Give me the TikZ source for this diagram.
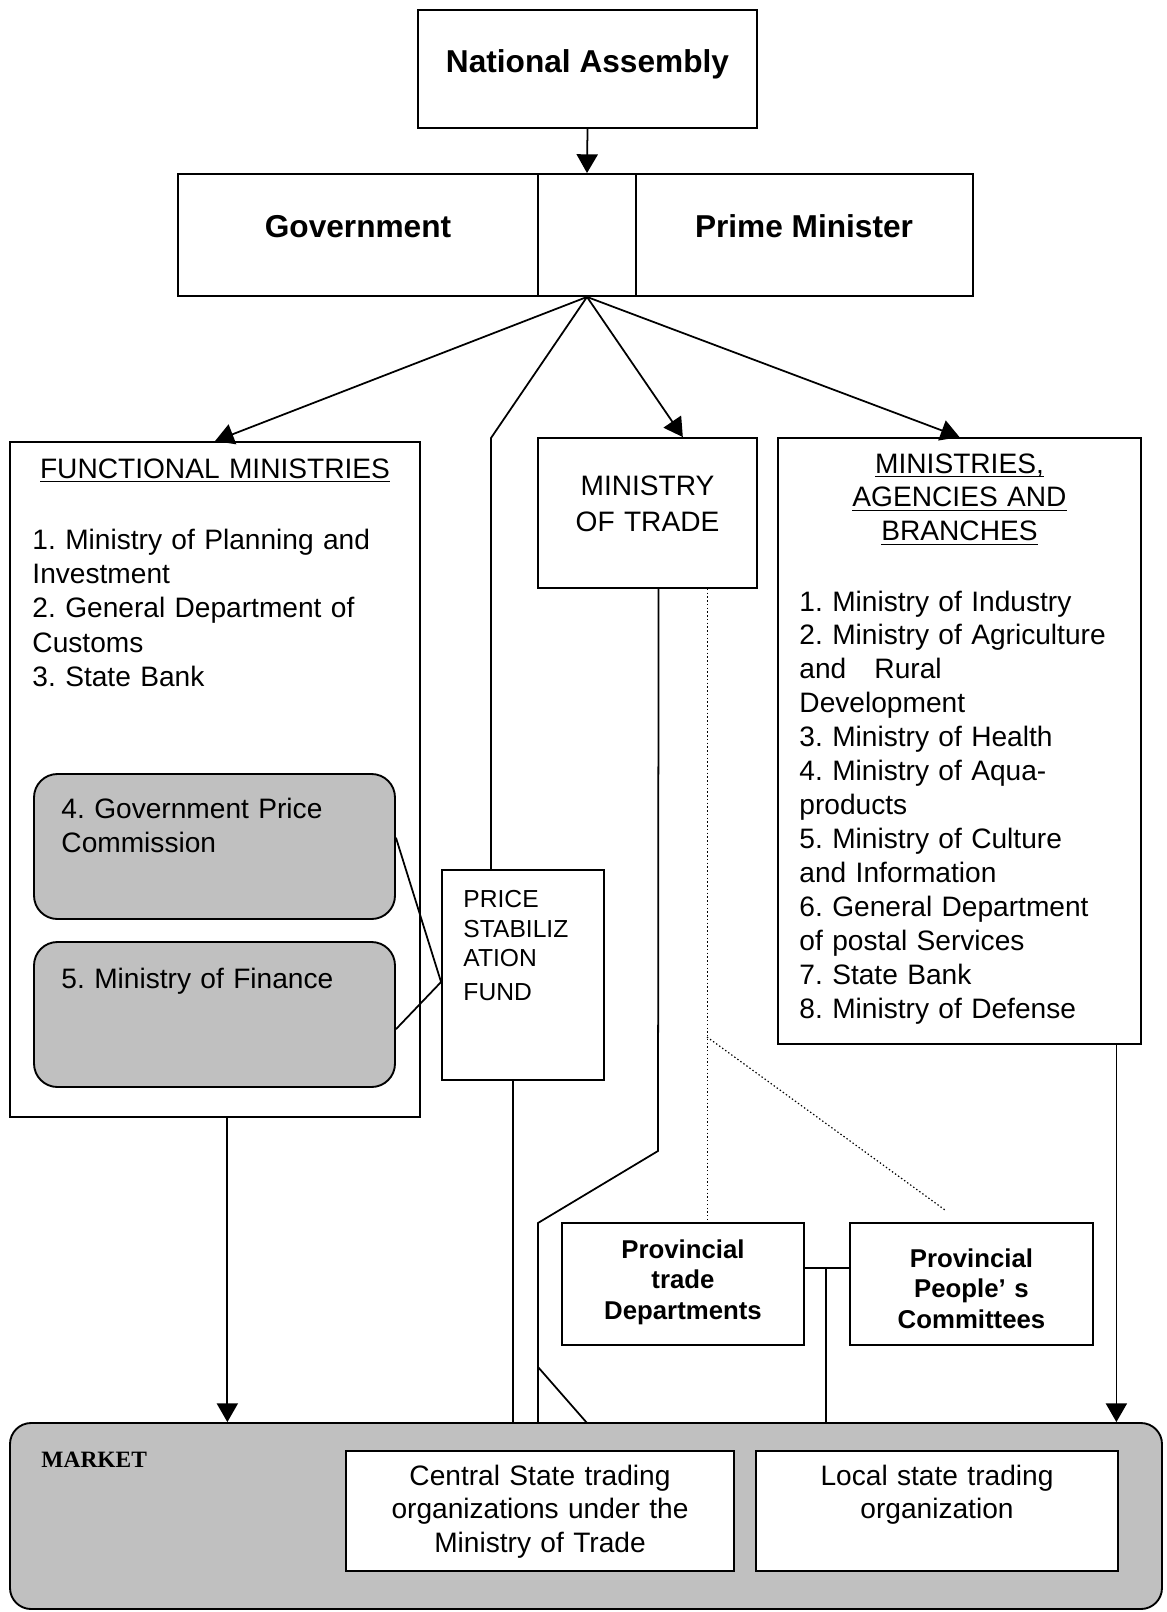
\documentclass[tikz,border=0pt]{standalone}
\usepackage{fontspec}
\setmainfont{Liberation Sans}
\newfontfamily\marketfont{Liberation Serif}
\frenchspacing
\newcommand{\undertext}[1]{\underline{\smash{#1}}}
\definecolor{marketgray}{RGB}{192, 192, 192}
\usetikzlibrary{positioning, fit, calc, arrows.meta}

\begin{document}
\begin{tikzpicture}[x=0.015cm, y=-0.015cm, >={Triangle[length=8pt, width=9pt]},
    box/.style={draw, line width=0.8pt, inner sep=0pt},
    greybox/.style={box, fill=marketgray, rounded corners=10pt},
    link/.style={line width=0.75pt},
    dotlink/.style={line width=0.5pt, dash pattern=on 0.6pt off 1pt},
    headtext/.style={font=\fontsize{13.5}{16}\selectfont\bfseries, inner sep=0pt, anchor=base},
    listtext/.style={font=\fontsize{12}{14.6}\selectfont, align=left, text width=5.6cm, inner sep=0pt, anchor=base west},
    centretext/.style={font=\fontsize{12}{14.5}\selectfont, align=center, text width=5.4cm, inner sep=0pt, anchor=base},
    provtext/.style={font=\fontsize{11}{13.2}\selectfont\bfseries, align=center, text width=3.4cm, inner sep=0pt, anchor=base}]
    \useasboundingbox (0,0) rectangle (1166,1612);

    \node [box, fit={(418,10) (757,128)}] (na) {};
    \node [headtext] (natext) at (587.5,72) {National Assembly};

    \node [box, fit={(178,174) (538,296)}] (govcell) {};
    \node [box, fit={(538,174) (636,296)}] (midcell) {};
    \node [box, fit={(636,174) (973,296)}] (pmcell) {};
    \node [headtext] (govtext) at (358,237) {Government};
    \node [headtext] (pmtext) at (804,237) {Prime Minister};

    \node [box, fit={(10,442) (420,1117)}] (fm) {};
    \node [centretext, text width=6cm] (fmtitle) at (215,478) {\undertext{FUNCTIONAL MINISTRIES}};
    \node [listtext, font=\fontsize{12}{14.7}\selectfont] (fmlist) at (32,549) {1. Ministry of Planning and\\Investment\\2. General Department of\\Customs\\3. State Bank};
    \node [greybox, fit={(34,774) (395,919)}] (gpc) {};
    \node [listtext, font=\fontsize{12}{14.9}\selectfont] (gpctext) at (61,818) {4. Government Price\\Commission};
    \node [greybox, fit={(34,942) (395,1087)}] (mof) {};
    \node [listtext] (moftext) at (61,988) {5. Ministry of Finance};

    \node [box, fit={(442,870) (604,1080)}] (psf) {};
    \node [listtext, font=\fontsize{10.5}{12.8}\selectfont] (psftext) at (463,907) {PRICE\\STABILIZ\\ATION\\[1.7pt]FUND};

    \node [box, fit={(538,438) (757,588)}] (mot) {};
    \node [centretext, font=\fontsize{12}{15.4}\selectfont, text width=3cm] (mottext) at (647.5,495) {MINISTRY\\OF TRADE};

    \node [box, fit={(778,438) (1141,1044)}] (mab) {};
    \node [centretext] (mabtitle) at (959.5,473) {\undertext{MINISTRIES,}\\\undertext{AGENCIES AND}\\\undertext{BRANCHES}};
    \node [listtext, font=\fontsize{12}{14.5}\selectfont] (mablist) at (799,611) {1. Ministry of Industry\\2. Ministry of Agriculture\\and \ \ Rural\\Development\\3. Ministry of Health\\4. Ministry of Aqua-\\products\\5. Ministry of Culture\\and Information\\6. General Department\\of postal Services\\7. State Bank\\8. Ministry of Defense};

    \node [box, fit={(562,1223) (804,1345)}] (ptd) {};
    \node [provtext] (ptdtext) at (683,1258) {Provincial\\trade\\Departments};
    \node [box, fit={(850,1223) (1093,1345)}] (ppc) {};
    \node [provtext] (ppctext) at (971.5,1267) {Provincial\\People’ s\\Committees};

    \node [box, fill=marketgray, rounded corners=9pt, fit={(10,1423) (1162,1609)}] (market) {};
    \node [font=\marketfont\fontsize{10}{12}\selectfont\bfseries, inner sep=0pt, anchor=base west] (markettext) at (41,1467) {MARKET};
    \node [box, fill=white, fit={(346,1451) (734,1571)}] (csto) {};
    \node [centretext] (cstotext) at (540,1485) {Central State trading\\organizations under the\\Ministry of Trade};
    \node [box, fill=white, fit={(756,1451) (1118,1571)}] (lsto) {};
    \node [centretext] (lstotext) at (937,1485) {Local state trading\\organization};

    \draw [link, ->] (na.south) -- (midcell.north);
    \draw [link, ->] (midcell.south) -- (fm.north);
    \draw [link, ->] (midcell.south) -- ($(mot.north west)!0.66!(mot.north east)$);
    \draw [link, ->] (midcell.south) -- (mab.north);

    \coordinate (psfbend) at (491,438);
    \draw [link] (midcell.south) -- (psfbend) -- (psfbend |- psf.north);
    \coordinate (psfin) at ($(psf.north west)!0.533!(psf.south west)$);
    \draw [link] ($(gpc.north east)!0.44!(gpc.south east)$) -- (psfin) -- ($(mof.north east)!0.6!(mof.south east)$);
    \coordinate (psfout) at ($(psf.south west)!0.44!(psf.south east)$);
    \draw [link] (psfout) -- (psfout |- market.north);

    \coordinate (motout) at ($(mot.south west)!0.55!(mot.south east)$);
    \coordinate (motbend) at (658,1151);
    \coordinate (motfoot) at (538,1223);
    \draw [link] (motout) -- (motbend) -- (motfoot) -- (motfoot |- market.north);
    \coordinate (motfork) at (538,1367);
    \coordinate (forkend) at (587,1423);
    \draw [link] (motfork) -- (forkend);

    \coordinate (dotout) at ($(mot.south west)!0.77!(mot.south east)$);
    \draw [dotlink] (dotout) -- (dotout |- ptd.north);
    \coordinate (dotsplit) at (707,1037);
    \coordinate (dotend) at (945,1210);
    \draw [dotlink] (dotsplit) -- (dotend);

    \coordinate (provlink) at ($(ptd.north east)!0.37!(ptd.south east)$);
    \draw [link] (provlink) -- (provlink -| ppc.west);
    \coordinate (provdrop) at ($(provlink)!0.48!(provlink -| ppc.west)$);
    \draw [link] (provdrop) -- (provdrop |- market.north);

    \coordinate (fmout) at ($(fm.south west)!0.53!(fm.south east)$);
    \draw [link, ->] (fmout) -- (fmout |- market.north);
    \coordinate (mabout) at ($(mab.south west)!0.93!(mab.south east)$);
    \draw [link, ->] (mabout) -- (mabout |- market.north);
\end{tikzpicture}
\end{document}
